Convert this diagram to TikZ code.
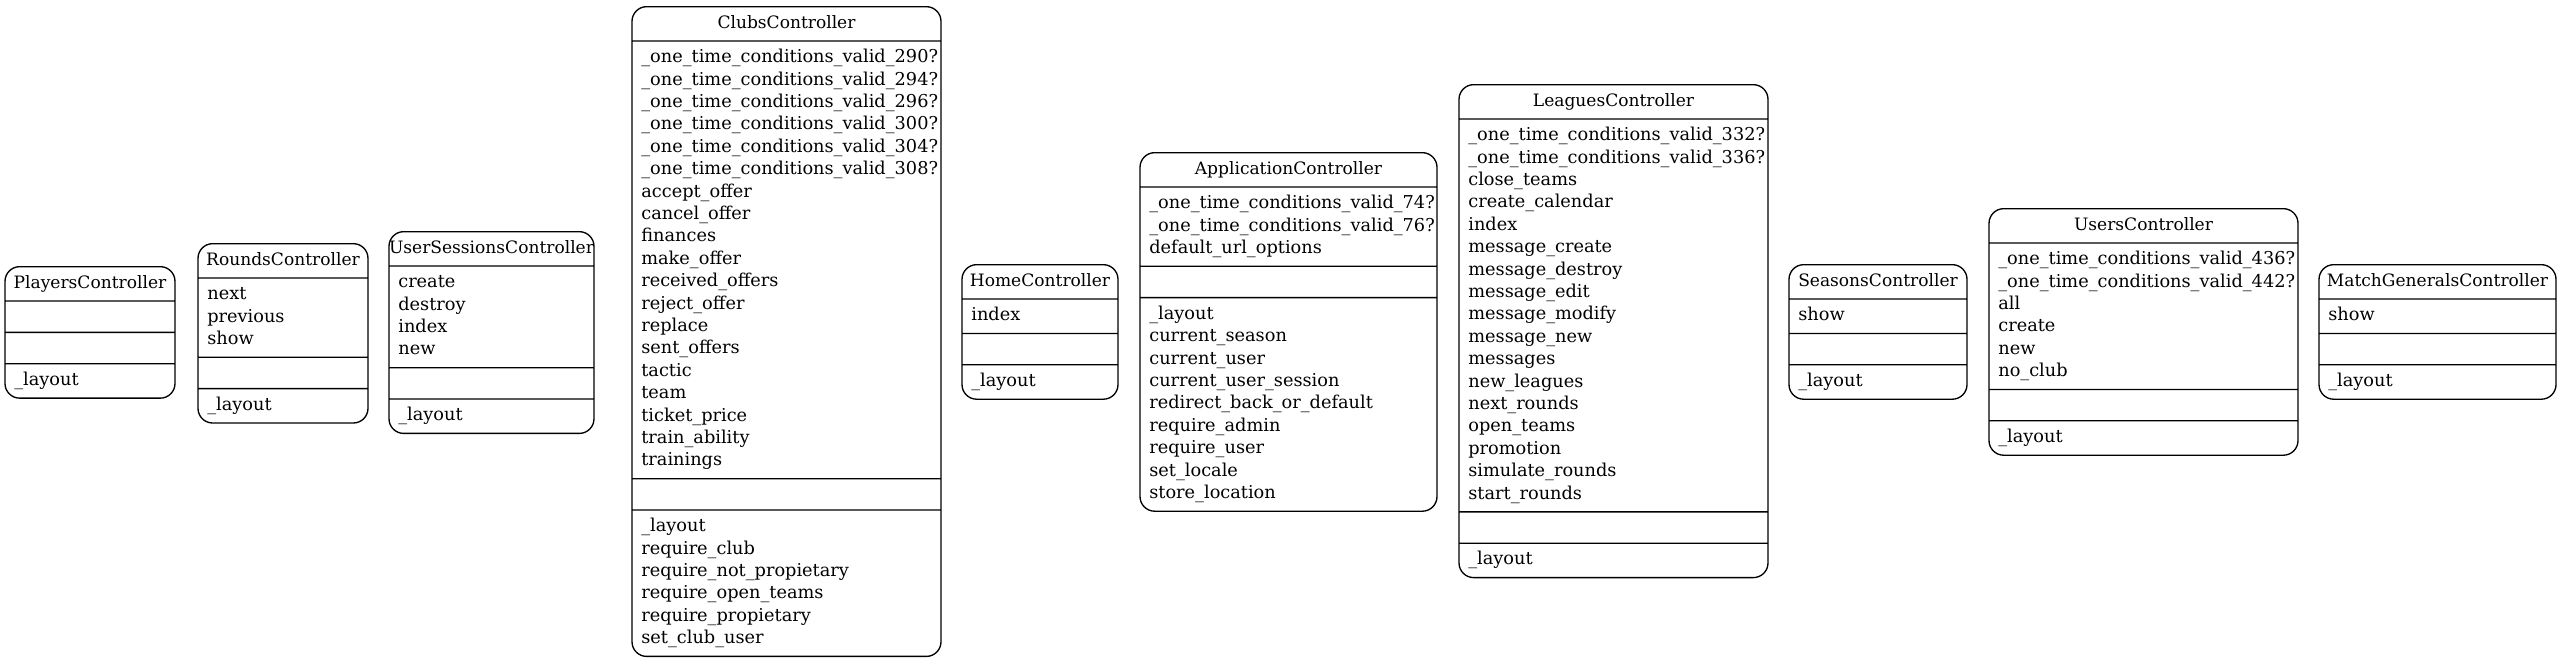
\documentclass[tikz,border=0pt]{standalone}
\usepackage{fontspec}
\setmainfont{DejaVu Serif}
\usepackage{xcolor}
\usetikzlibrary{shapes.multipart}
\definecolor{frame}{HTML}{000000}
\tikzset{
  CtrlBox/.style={
    draw=frame, line width=1pt,
    rectangle split, rectangle split parts=4,
    rectangle split part align={center,left,left,left},
    rounded corners=11pt,
    inner xsep=7pt, inner ysep=4pt,
    anchor=north,
    font=\fontsize{13.3}{16.8}\selectfont
  }
}
% one compartment, rows separated by \\ (width comes from the box)
\newcommand{\Rows}[1]{\makebox[0pt][l]{\begin{tabular}{@{}l@{}}#1\end{tabular}}}
% empty compartment
\newcommand{\NoRows}{\rule{0pt}{14.5pt}}
\newcommand{\Controller}[6]{%
  % #1 = node name, #2 = x of centre, #3 = top y, #4 = width (px)
  % #5 = public part, #6 = private part
  \node[CtrlBox, minimum width=#4*0.75pt] (#1) at (#2,#3)
    {\makebox[0pt]{\fontsize{12.8}{16.8}\selectfont
       \begin{tabular}{@{}c@{}}#1Controller\end{tabular}}%
     \nodepart{two}#5\nodepart{three}\NoRows\nodepart{four}#6};
}

\begin{document}
\begin{tikzpicture}[x=0.75pt, y=-0.75pt]
  \useasboundingbox (0,0) rectangle (2560,658);

  \Controller{Players}{90}{266}{170}{\NoRows}{\Rows{\_layout}}
  \Controller{Rounds}{283}{243}{170}{\Rows{next\\previous\\show}}{\Rows{\_layout}}
  \Controller{UserSessions}{491.5}{231}{205}{\Rows{create\\destroy\\index\\new}}{\Rows{\_layout}}
  \Controller{Clubs}{786.5}{6}{309}{\Rows{%
      \_one\_time\_conditions\_valid\_290?\\
      \_one\_time\_conditions\_valid\_294?\\
      \_one\_time\_conditions\_valid\_296?\\
      \_one\_time\_conditions\_valid\_300?\\
      \_one\_time\_conditions\_valid\_304?\\
      \_one\_time\_conditions\_valid\_308?\\
      accept\_offer\\cancel\_offer\\finances\\make\_offer\\
      received\_offers\\reject\_offer\\replace\\sent\_offers\\
      tactic\\team\\ticket\_price\\train\_ability\\trainings}}
    {\Rows{\_layout\\require\_club\\require\_not\_propietary\\
      require\_open\_teams\\require\_propietary\\set\_club\_user}}
  \Controller{Home}{1040}{264}{156}{\Rows{index}}{\Rows{\_layout}}
  \Controller{Application}{1288.5}{152}{297}{\Rows{%
      \_one\_time\_conditions\_valid\_74?\\
      \_one\_time\_conditions\_valid\_76?\\
      default\_url\_options}}
    {\Rows{\_layout\\current\_season\\current\_user\\current\_user\_session\\
      redirect\_back\_or\_default\\require\_admin\\require\_user\\
      set\_locale\\store\_location}}
  \Controller{Leagues}{1613.5}{84}{309}{\Rows{%
      \_one\_time\_conditions\_valid\_332?\\
      \_one\_time\_conditions\_valid\_336?\\
      close\_teams\\create\_calendar\\index\\message\_create\\
      message\_destroy\\message\_edit\\message\_modify\\message\_new\\
      messages\\new\_leagues\\next\_rounds\\open\_teams\\promotion\\
      simulate\_rounds\\start\_rounds}}
    {\Rows{\_layout}}
  \Controller{Seasons}{1878}{264}{178}{\Rows{show}}{\Rows{\_layout}}
  \Controller{Users}{2143.5}{208}{309}{\Rows{%
      \_one\_time\_conditions\_valid\_436?\\
      \_one\_time\_conditions\_valid\_442?\\
      all\\create\\new\\no\_club}}
    {\Rows{\_layout}}
  \Controller{MatchGenerals}{2437.5}{264}{237}{\Rows{show}}{\Rows{\_layout}}
\end{tikzpicture}
\end{document}
